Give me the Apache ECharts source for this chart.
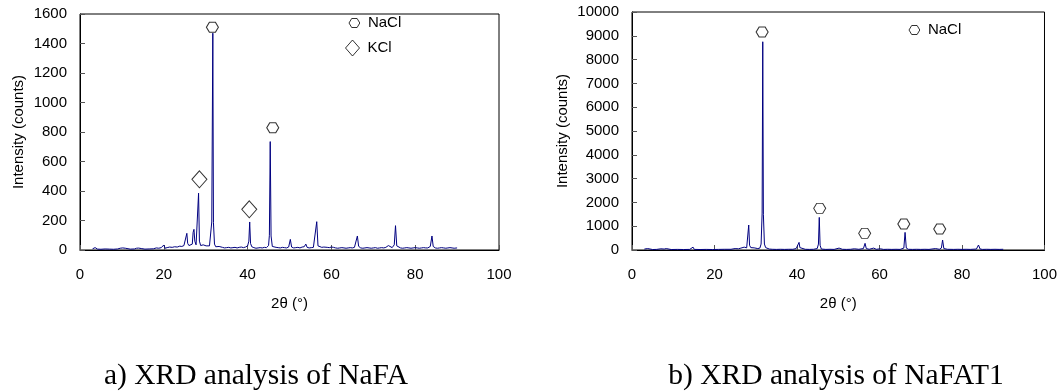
<!DOCTYPE html>
<html><head><meta charset="utf-8">
<script src="https://cdn.jsdelivr.net/npm/echarts@6/dist/echarts.min.js"></script>
<style>html,body{margin:0;padding:0;background:#fff}#c{width:1060px;height:392px}</style>
</head><body><div id="c"></div>
<script>
// ---- a) NaFA ----
const twoThetaA = [3.0,3.3,3.6,3.9,4.2,5,6,7,8,9,9.6,10.2,10.8,11.2,12,13,13.5,14,14.6,15.5,16.5,17.5,18.2,18.8,19.4,20,20.3,20.8,21.4,22,22.6,23.2,23.8,24.3,24.8,25.2,25.5,25.7,26.0,26.4,26.8,27.0,27.2,27.4,27.7,28.0,28.3,28.5,28.8,29.1,29.4,29.7,30.1,30.5,30.9,31.2,31.45,31.7,31.85,32.1,32.4,32.8,33.2,33.6,34.0,34.5,35,35.5,36,36.5,37,37.5,38,38.5,39,39.5,40.0,40.3,40.5,40.7,41.0,41.5,42,42.5,43,43.5,44,44.5,45.0,45.2,45.4,45.6,45.9,46.3,46.8,47.3,47.8,48.3,48.8,49.3,49.8,50.2,50.5,51,51.5,52,52.5,53,53.5,53.9,54.2,54.7,55.2,55.7,56.1,56.5,56.8,57.2,57.7,58.2,58.6,59,59.5,60,60.5,61,61.5,62,62.5,63,63.5,64,64.5,65,65.5,65.9,66.2,66.5,67,67.5,68,68.5,69,69.5,70,70.5,71,71.5,72,72.5,73,73.6,74,74.5,75.0,75.3,75.6,76,76.5,77,77.5,78,78.5,79,79.5,80,80.5,81,81.5,82,82.5,83,83.6,84,84.3,84.8,85.3,85.8,86.3,86.8,87.3,87.8,88.3,88.8,89.3,90];
const countsA = [8,14,16,12,6,5,7,6,5,7,12,14,12,8,6,7,12,13,10,6,7,8,14,12,16,34,12,16,20,18,22,20,26,24,30,40,113,45,30,28,40,120,140,60,35,45,385,60,30,40,35,30,28,32,28,40,190,1470,185,40,22,16,24,30,18,14,16,18,14,16,18,14,18,20,16,20,28,60,190,45,22,16,12,14,16,14,18,16,30,100,735,95,24,16,18,16,14,18,16,14,20,72,20,14,16,18,14,20,22,40,18,14,16,18,30,192,28,16,18,20,32,18,16,20,18,14,12,14,16,14,12,14,16,14,18,30,95,25,14,12,14,16,14,12,14,16,12,14,16,14,18,30,20,16,35,165,28,16,14,12,14,16,14,12,14,16,14,12,14,16,14,14,24,95,24,14,12,14,16,14,12,14,16,14,12,14];
const naclMarksA = [[31.6,1510],[46.0,829]];
const kclMarksA = [[28.5,479],[40.4,276]];

// ---- b) NaFAT1 ----
const twoThetaB = [3.0,3.4,3.8,4.2,5,6,7,7.4,7.8,8.3,8.7,9.5,11,12.5,14,14.8,15.1,16.5,18,19.5,21,22.5,24,25,25.4,25.8,26.4,26.8,27.2,27.5,27.8,28.1,28.3,28.5,28.8,29.2,29.6,30,30.5,31,31.3,31.55,31.7,31.85,32.1,32.4,32.8,33.3,34,35,36,37,38,39,39.8,40.2,40.5,40.7,41,42,43,44,44.9,45.2,45.4,45.6,45.9,47,48,49,50.2,51,52,53,53.9,55,56.1,56.5,56.8,57.5,58.6,59.2,60.2,61,62,63,64,65,65.9,66.2,66.5,67,68,69,70,71,72,73.6,74.5,75.0,75.3,75.6,76.5,78,79,80,81,82,83.5,84,84.4,85,86,87,88,89,90];
const countsB = [40,70,60,30,20,25,50,70,40,60,30,20,25,20,25,120,25,20,25,20,25,30,30,60,110,50,80,60,120,180,90,150,1050,200,100,140,90,70,60,80,250,1550,8750,1500,250,100,60,40,30,25,30,25,30,30,60,120,320,100,40,30,25,30,60,250,1370,200,40,25,30,25,80,30,25,30,50,30,60,280,60,30,80,30,50,25,30,25,30,25,80,740,80,30,25,30,25,30,25,60,30,80,420,60,30,25,30,25,30,25,40,210,40,25,30,25,30,25,30];
const naclMarksB = [[31.55,9160],[45.5,1750],[56.4,700],[65.9,1090],[74.6,880]];

const xTickStep = 20, xMax = 100;
const yMaxA = 1600, yStepA = 200, yMaxB = 10000, yStepB = 1000;
const captions = ['a) XRD analysis of NaFA', 'b) XRD analysis of NaFAT1'];

const HEX = 'path://M0,5L3,0L9,0L12,5L9,10L3,10Z';
const SANS = 'Liberation Sans, Arial, sans-serif';
const zip = (a, b) => a.map((v, i) => [v, b[i]]);
const plain = v => String(v);

function xAx(g) {
  return {
    type: 'value', gridIndex: g, min: 0, max: xMax, interval: xTickStep,
    axisLine: {lineStyle: {color: '#000', width: 1}},
    axisTick: {inside: true, length: 5, lineStyle: {color: '#555'}},
    axisLabel: {color: '#000', fontSize: 15, fontFamily: SANS, margin: 17, formatter: plain},
    splitLine: {show: false},
    name: '2θ (°)', nameLocation: 'middle', nameGap: 46,
    nameTextStyle: {color: '#000', fontSize: 15, fontFamily: SANS}
  };
}
function yAx(g, max, step, gap) {
  return {
    type: 'value', gridIndex: g, min: 0, max: max, interval: step,
    axisLine: {show: true, lineStyle: {color: '#000', width: 1}},
    axisTick: {show: true, inside: true, length: 5, lineStyle: {color: '#555'}},
    axisLabel: {color: '#000', fontSize: 15, fontFamily: SANS, margin: 13, formatter: plain},
    splitLine: {show: false},
    name: 'Intensity (counts)', nameLocation: 'middle', nameGap: gap, nameRotate: 90,
    nameTextStyle: {color: '#000', fontSize: 15, fontFamily: SANS}
  };
}
const markStyle = {color: '#fff', borderColor: '#000', borderWidth: 1};
const legendCommon = {
  orient: 'vertical', selectedMode: false, padding: 5,
  textStyle: {color: '#000', fontSize: 15, fontFamily: SANS, padding: [0, 0, 0, 3]},
  itemStyle: markStyle
};
const captionStyle = {fontFamily: 'Liberation Serif, Times New Roman, serif', fontWeight: 'normal', fontSize: 29.5, color: '#000'};

const chart = echarts.init(document.getElementById('c'), null, {renderer: 'canvas'});
chart.setOption({
  animation: false,
  backgroundColor: '#fff',
  title: [
    {text: captions[0], left: 256, top: 361, textAlign: 'center', padding: 0, textStyle: captionStyle},
    {text: captions[1], left: 836, top: 361, textAlign: 'center', padding: 0, textStyle: captionStyle}
  ],
  legend: [
    Object.assign({left: 343.5, top: 10.5, itemWidth: 11, itemHeight: 9, data: [{name: 'NaCl', icon: HEX}]}, legendCommon),
    Object.assign({left: 340, top: 34.5, itemWidth: 14, itemHeight: 16, data: [{name: 'KCl', icon: 'diamond'}]}, legendCommon),
    Object.assign({left: 903.5, top: 17.5, itemWidth: 11, itemHeight: 9, data: [{name: 'NaCl', icon: HEX}]}, legendCommon)
  ],
  grid: [
    {left: 80, top: 14, width: 419, height: 236, show: true, borderColor: '#000', borderWidth: 1, containLabel: false},
    {left: 632, top: 12, width: 413, height: 238, show: true, borderColor: '#000', borderWidth: 1, containLabel: false}
  ],
  xAxis: [xAx(0), xAx(1)],
  yAxis: [yAx(0, yMaxA, yStepA, 54), yAx(1, yMaxB, yStepB, 62)],
  series: [
    {type: 'line', name: 'NaFA', xAxisIndex: 0, yAxisIndex: 0, data: zip(twoThetaA, countsA),
     showSymbol: false, lineStyle: {color: '#000080', width: 1}, itemStyle: {color: '#000080'}, silent: true},
    {type: 'scatter', name: 'NaCl', xAxisIndex: 0, yAxisIndex: 0, data: naclMarksA,
     symbol: HEX, symbolSize: [12, 10], itemStyle: markStyle, z: 5, silent: true},
    {type: 'scatter', name: 'KCl', xAxisIndex: 0, yAxisIndex: 0, data: kclMarksA,
     symbol: 'diamond', symbolSize: [15, 17], itemStyle: markStyle, z: 5, silent: true},
    {type: 'line', name: 'NaFAT1', xAxisIndex: 1, yAxisIndex: 1, data: zip(twoThetaB, countsB),
     showSymbol: false, lineStyle: {color: '#000080', width: 1}, itemStyle: {color: '#000080'}, silent: true},
    {type: 'scatter', name: 'NaCl', xAxisIndex: 1, yAxisIndex: 1, data: naclMarksB,
     symbol: HEX, symbolSize: [12, 10], itemStyle: markStyle, z: 5, silent: true}
  ]
});
</script>
</body></html>
